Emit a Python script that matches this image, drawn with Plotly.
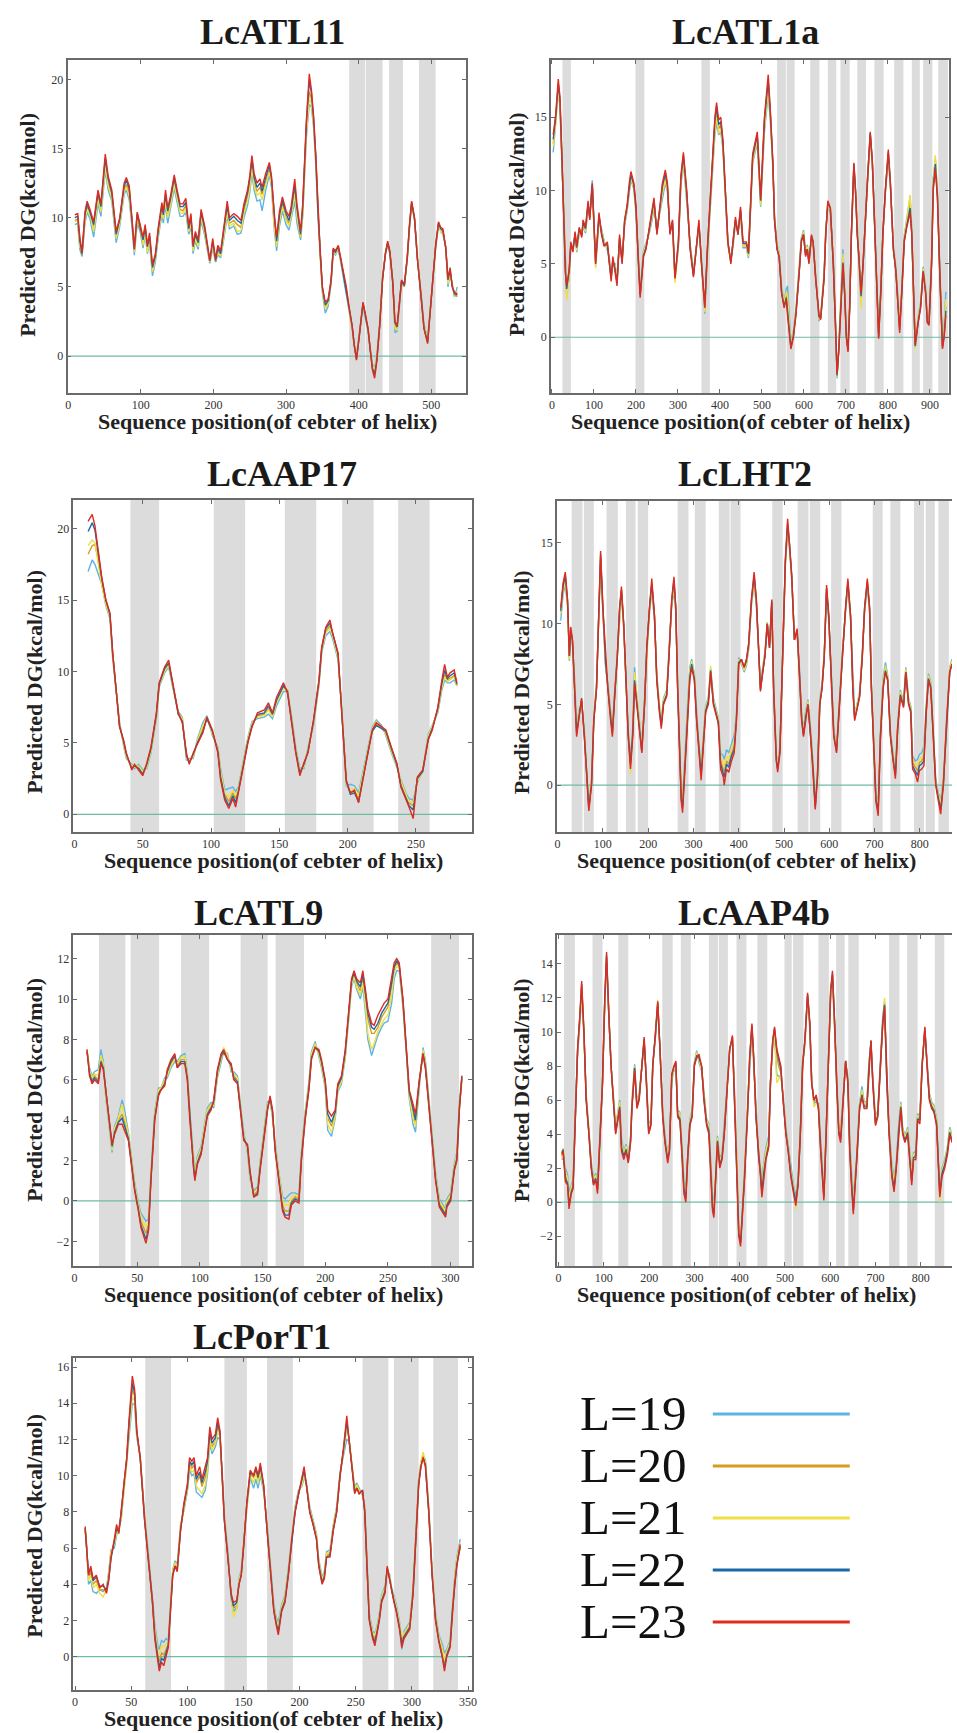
import plotly.graph_objects as go

W, H = 957, 1733
SERIES = ["L=19", "L=20", "L=21", "L=22", "L=23"]
COLORS = ["#5DB3E4", "#D99A1E", "#EEDF45", "#1B69A6", "#DF2A1F"]
TITLES = ["LcATL11", "LcATL1a", "LcAAP17", "LcLHT2", "LcATL9", "LcAAP4b", "LcPorT1"]
X_TITLE = "Sequence position(of cebter of helix)"
Y_TITLE = "Predicted DG(kcal/mol)"

# ---------------- LcATL11 ----------------
X1 = [9,13,16,19,23,26,30,35,41,45, 51,55,60,66,71,77,80,84,88,91,
      95,99,103,106,109,112,116,120,124,129, 131,134,137,141,146,150,154,158,162,166,
      169,172,175,179,183,188,192,195,199,203, 206,210,215,219,222,228,233,238,242,247,
      250,253,256,260,264,267,272,277,280,284, 287,291,295,300,304,307,312,315,320,323,
      328,332,335,338,341,344,347,350,354,358, 362,365,368,372,375,379,383,387,391,394,
      397,401,406,409,413,416,419,422,425,429, 433,437,440,443,447,450,453,456,459,463,
      467,470,473,477,481,486,490,495,498,502, 506,510,513,516,520,523,526,529,532,536]
P1_L23 = [10.2,10.3,8.6,7.5,10.4,11.2,10.6,9.7,12.0,11.0, 14.6,13.0,12.0,9.0,10.0,12.5,12.9,12.3,9.8,7.8,
          10.4,9.5,8.6,9.5,8.0,8.9,6.6,7.4,9.3,11.1, 10.4,12.0,10.7,11.6,13.1,12.0,11.0,11.0,11.4,9.4,
          10.3,8.0,9.0,8.4,10.6,9.4,8.0,6.9,8.5,7.0, 8.0,7.6,9.6,11.2,10.0,10.3,10.1,9.8,11.0,12.0,
          13.0,14.5,13.2,12.5,12.8,12.2,13.2,14.0,13.0,10.0, 8.6,10.5,11.5,10.5,10.1,10.8,12.8,11.0,9.0,11.0,
          17.0,20.4,19.2,17.3,14.5,10.5,7.5,5.0,3.9,4.1, 5.5,7.8,7.6,8.0,7.2,6.0,5.0,3.5,2.2,0.8,
          -0.3,1.5,3.9,3.1,2.0,0.5,-1.0,-1.6,-0.4,2.2, 5.6,7.5,8.3,7.6,5.3,2.5,2.2,3.8,5.5,5.2,
          7.2,9.5,11.2,10.0,7.0,4.3,2.0,0.9,3.0,5.8, 8.0,9.7,9.3,9.2,7.8,5.6,6.4,5.0,4.6,4.5]
P1_L22 = [10.0,10.1,8.3,7.4,10.2,11.0,10.4,9.5,11.8,10.8, 14.3,12.8,11.8,8.8,9.9,12.3,12.7,12.1,9.7,7.7,
          10.3,9.3,8.4,9.3,7.9,8.7,6.4,7.2,9.1,10.9, 10.2,11.7,10.5,11.4,12.9,11.8,10.8,10.8,11.1,9.2,
          10.1,7.9,8.8,8.2,10.4,9.2,7.8,6.9,8.3,6.9, 7.8,7.4,9.4,10.9,9.8,10.1,9.8,9.6,10.8,11.8,
          12.8,14.2,12.9,12.2,12.5,11.9,12.9,13.8,12.8,9.8, 8.3,10.2,11.2,10.3,9.8,10.5,12.4,10.7,8.8,10.8,
          16.8,19.9,19.0,17.1,14.4,10.4,7.5,5.0,3.7,4.0, 5.4,7.7,7.5,7.9,7.1,5.9,4.9,3.4,2.2,0.8,
          -0.2,1.5,3.8,3.0,1.9,0.4,-0.9,-1.3,-0.3,2.2, 5.6,7.4,8.2,7.5,5.3,2.4,2.1,3.7,5.4,5.1,
          7.1,9.4,11.1,9.9,7.0,4.3,2.0,1.0,3.0,5.7, 7.9,9.6,9.2,9.1,7.8,5.5,6.2,5.0,4.5,4.4]
P1_L20 = [9.8,9.9,8.0,7.3,9.9,10.8,10.3,9.2,11.5,10.5, 14.0,12.5,11.6,8.6,9.7,12.1,12.4,11.8,9.5,7.6,
          10.0,9.2,8.2,9.1,7.7,8.5,6.2,7.1,8.9,10.6, 10.0,11.4,10.2,11.1,12.6,11.6,10.6,10.5,10.9,9.1,
          9.8,7.7,8.6,8.0,10.2,9.0,7.7,6.8,8.1,6.8, 7.6,7.3,9.1,10.6,9.6,9.8,9.5,9.3,10.5,11.5,
          12.4,13.9,12.6,11.9,12.2,11.7,12.6,13.5,12.6,9.5, 8.1,9.9,11.0,10.0,9.6,10.3,12.0,10.4,8.6,10.5,
          16.4,19.1,18.6,16.9,14.2,10.3,7.4,4.9,3.5,3.9, 5.3,7.7,7.5,7.8,7.0,5.9,4.9,3.3,2.1,0.7,
          -0.2,1.6,3.8,3.0,1.9,0.4,-0.8,-1.1,-0.2,2.3, 5.7,7.5,8.2,7.5,5.4,2.2,2.0,3.6,5.3,5.0,
          7.1,9.3,11.1,9.9,7.0,4.4,2.1,1.1,3.1,5.7, 7.9,9.6,9.1,9.0,7.9,5.4,6.1,5.1,4.4,4.3]
P1_L21 = [9.7,9.8,7.9,7.6,9.8,10.6,10.2,9.0,11.3,10.4, 13.7,12.3,11.4,8.5,9.6,11.9,12.2,11.6,9.6,7.5,
          9.8,9.6,8.0,9.0,7.5,8.4,6.1,7.0,8.8,10.4, 9.9,11.2,10.0,10.9,12.4,11.4,10.4,10.3,10.7,9.0,
          9.6,7.6,8.5,7.9,10.0,8.9,7.6,6.8,8.0,6.9, 7.5,7.2,8.9,10.4,9.4,9.6,9.0,9.1,10.3,11.2,
          12.1,13.6,12.3,11.6,11.8,11.3,12.4,13.3,12.4,9.3, 7.9,9.7,10.8,9.8,9.4,10.1,11.7,10.1,8.6,10.3,
          16.1,18.6,18.3,16.7,14.0,10.2,7.3,4.8,3.4,3.8, 5.3,7.6,7.4,7.8,7.0,5.8,4.8,3.3,2.0,0.7,
          -0.1,1.6,3.7,2.9,1.9,0.5,-0.7,-1.0,-0.1,2.3, 5.7,7.4,8.1,7.4,5.4,2.0,1.9,3.6,5.3,5.1,
          7.0,9.3,11.0,9.8,7.1,4.4,2.2,1.2,3.1,5.6, 7.8,9.5,9.0,8.9,7.9,5.2,6.0,5.1,4.4,4.7]
P1_L19 = [9.5,9.6,7.7,7.2,9.6,10.4,9.9,8.6,11.0,10.1, 13.4,12.0,11.2,8.2,9.4,11.7,12.0,11.3,9.2,7.3,
          9.6,9.0,7.8,8.8,7.4,8.2,5.8,6.8,8.6,10.2, 9.6,10.9,9.6,10.6,12.1,11.1,10.1,10.1,10.4,8.8,
          9.4,7.4,8.3,7.7,9.8,8.7,7.5,6.7,7.8,6.8, 7.3,7.1,8.7,10.1,9.2,9.4,8.8,8.9,10.0,10.9,
          11.8,13.2,12.0,11.2,11.3,10.5,12.0,13.1,12.2,9.0, 7.6,9.4,10.5,9.5,9.1,9.8,11.2,9.6,8.4,10.1,
          15.8,18.2,18.0,16.5,13.8,10.0,7.2,4.6,3.1,3.6, 5.2,7.5,7.3,7.7,6.9,5.7,4.7,3.2,2.0,0.7,
          0.0,1.7,3.6,2.8,1.8,0.5,-0.6,-0.9,0.0,2.4, 5.8,7.4,8.0,7.4,5.5,1.7,1.8,3.5,5.2,5.1,
          7.0,9.2,11.0,9.8,7.1,4.5,2.3,1.3,3.2,5.6, 7.7,9.5,9.0,8.8,7.9,5.0,5.9,5.2,4.3,5.0]
BANDS1 = [(387, 409), (410, 433), (442, 461), (483, 506)]

# ---------------- LcATL1a ----------------
X2 = [3,9,15,19,24,28,32,35,41,45, 50,55,59,65,71,74,80,86,90,96,
      104,112,118,124,132,136,141,145,150,155, 161,167,173,179,184,188,195,200,206,210,
      218,224,232,238,243,250,258,263,270,275, 281,287,293,301,307,313,321,329,337,347,
      350,356,364,370,376,381,388,392,397,402, 407,413,419,426,431,437,443,449,455,463,
      468,478,489,497,506,515,520,526,530,536, 541,547,553,558,561,569,575,581,589,594,
      599,604,608,612,618,622,628,636,640,648, 652,657,663,670,675,679,683,689,693,697,
      701,705,709,713,719,723,727,731,736,741, 746,752,758,763,768,774,778,783,788,794,
      801,806,813,819,825,828,833,839,845,853, 857,861,865,872,878,884,890,894,898,904,
      908,913,918,924,930,934,938]
P2_L23 = [13.8,15.2,17.6,16.4,12.0,8.0,4.5,3.5,4.6,6.5, 5.8,7.2,6.2,7.5,6.8,8.0,7.5,9.3,8.0,10.5,
          5.0,8.5,7.0,6.2,6.5,5.3,3.8,5.5,4.6,3.5, 7.0,5.0,8.0,9.0,10.5,11.3,10.5,9.0,5.0,2.7,
          5.5,6.0,7.5,8.5,9.5,7.0,9.0,10.5,11.4,10.5, 7.0,8.0,4.0,6.5,11.0,12.6,10.0,6.0,4.1,7.5,
          8.0,5.0,2.0,6.0,9.0,11.5,15.0,16.0,14.8,15.0, 13.5,10.0,6.5,5.0,6.5,8.2,7.0,8.9,6.5,6.5,
          5.8,12.5,14.0,9.4,15.0,17.9,15.5,12.0,8.0,6.0, 5.5,3.0,2.0,2.6,1.5,-0.8,0.0,1.5,4.5,6.5,
          7.0,5.5,6.0,5.0,7.0,6.5,4.0,1.5,1.2,4.0, 7.0,9.3,8.8,5.0,1.0,-2.5,-1.0,3.0,5.0,3.0,
          0.0,-1.0,2.0,7.0,11.9,10.0,7.0,5.5,3.0,5.0, 8.0,11.0,14.0,12.0,8.0,3.0,-0.1,3.0,7.0,10.0,
          12.8,10.5,6.0,4.5,1.5,0.3,3.0,6.5,7.5,8.5, 7.0,3.0,-0.5,1.0,2.0,4.5,3.0,1.0,0.8,5.0,
          10.0,11.5,9.5,4.0,-0.8,0.0,1.5]
P2_L22 = [13.5,15.0,17.3,16.2,12.0,8.0,4.4,3.3,4.5,6.4, 5.9,7.0,6.1,7.4,6.9,7.8,7.4,9.1,8.1,10.4,
          5.1,8.3,7.1,6.3,6.3,5.2,4.0,5.3,4.7,3.7, 6.8,5.1,7.9,8.9,10.4,11.1,10.4,8.8,5.1,2.9,
          5.6,6.1,7.4,8.3,9.3,7.1,8.9,10.3,11.2,10.3, 7.1,7.9,4.1,6.4,10.8,12.4,9.8,6.1,4.2,7.4,
          7.8,5.1,2.1,5.9,8.9,11.4,14.8,15.7,14.5,14.7, 13.3,9.9,6.5,5.1,6.4,8.0,7.0,8.7,6.4,6.4,
          5.7,12.3,13.8,9.3,14.8,17.5,15.3,11.9,8.0,6.0, 5.5,3.0,2.1,2.7,1.8,-0.7,0.1,1.6,4.5,6.6,
          7.0,5.6,6.0,5.1,6.9,6.5,4.0,1.4,1.3,4.0, 7.0,9.2,8.8,5.0,1.0,-2.6,-0.9,3.1,5.1,3.0,
          0.1,-0.9,2.0,7.0,11.8,10.0,7.0,5.4,2.8,5.0, 8.0,11.0,13.9,12.0,8.0,3.0,0.0,3.0,7.0,10.0,
          12.6,10.5,6.0,4.5,1.5,0.5,3.0,6.6,7.6,8.8, 7.0,3.0,-0.6,1.0,2.1,4.5,3.0,1.0,0.9,5.0,
          10.2,11.8,9.6,4.0,-0.7,0.1,1.8]
P2_L20 = [13.2,14.9,17.2,16.0,11.8,8.0,4.3,3.0,4.4,6.3, 6.0,7.1,6.0,7.3,7.0,7.7,7.3,9.0,8.2,10.3,
          5.0,8.2,7.2,6.4,6.2,5.4,4.1,5.2,4.8,3.8, 6.7,5.2,7.8,8.8,10.2,11.0,10.3,8.7,5.2,2.9,
          5.7,6.2,7.3,8.2,9.1,7.2,8.8,10.1,11.0,10.2, 7.2,7.8,4.0,6.3,10.6,12.2,9.7,6.2,4.3,7.3,
          7.7,5.2,1.9,5.8,8.8,11.3,14.5,15.4,14.2,14.5, 13.2,9.8,6.4,5.2,6.3,8.0,7.1,8.6,6.3,6.3,
          5.6,12.2,13.6,9.2,14.6,17.2,15.2,11.8,8.1,6.1, 5.6,3.1,2.2,2.9,2.2,-0.6,0.2,1.7,4.6,6.6,
          7.1,5.7,6.1,5.2,6.8,6.4,4.1,1.3,1.4,4.1, 7.1,9.1,8.7,5.1,1.1,-2.6,-0.8,3.2,5.3,3.1,
          0.2,-0.8,2.1,6.9,11.7,9.9,7.1,5.3,2.5,5.0, 8.1,11.0,13.8,11.9,8.0,3.1,0.1,3.1,7.0,10.0,
          12.5,10.4,6.1,4.6,1.6,0.7,3.1,6.7,7.8,9.2, 7.1,3.1,-0.7,1.1,2.2,4.6,3.1,1.1,1.0,5.1,
          10.4,12.1,9.7,4.1,-0.6,0.3,2.1]
P2_L21 = [13.0,14.6,16.9,15.8,11.7,7.9,4.0,2.5,4.2,6.2, 6.1,7.0,5.9,7.2,7.1,7.6,7.2,8.8,8.3,10.1,
          4.7,8.0,7.3,6.5,6.0,5.5,4.2,5.0,4.9,4.0, 6.5,5.3,7.7,8.7,10.0,10.8,10.2,8.6,5.3,3.0,
          5.8,6.3,7.2,8.0,8.9,7.3,8.7,9.8,10.7,10.0, 7.3,7.6,3.7,6.2,10.4,12.0,9.5,6.3,4.4,7.2,
          7.6,5.3,1.7,5.7,8.6,11.1,14.1,15.0,13.9,14.2, 13.0,9.7,6.3,5.3,6.2,7.9,7.2,8.5,6.2,6.2,
          5.5,12.0,13.4,9.0,14.3,16.9,15.0,11.7,8.2,6.2, 5.7,3.2,2.4,3.1,2.8,-0.5,0.3,1.8,4.7,6.7,
          7.2,5.8,6.2,5.3,6.7,6.3,4.2,1.2,1.5,4.2, 7.2,9.0,8.6,5.2,1.2,-2.7,-0.7,3.4,5.7,3.2,
          0.3,-0.7,2.2,6.8,11.5,9.8,7.2,5.2,2.0,5.0, 8.2,11.1,13.7,11.8,8.1,3.2,0.2,3.2,7.0,9.9,
          12.3,10.3,6.2,4.7,1.7,0.9,3.2,6.8,8.0,9.7, 7.2,3.2,-0.8,1.2,2.3,4.7,3.2,1.2,1.1,5.2,
          10.6,12.4,9.8,4.2,-0.5,0.6,2.6]
P2_L19 = [12.6,14.5,16.8,15.7,11.6,7.8,4.1,2.9,4.1,6.1, 6.2,6.9,5.8,7.1,7.2,7.5,7.1,8.7,8.4,10.7,
          4.9,7.9,7.4,6.6,5.9,5.6,4.3,4.9,5.0,4.1, 6.4,5.4,7.6,8.6,9.9,10.7,10.1,8.5,5.4,3.1,
          5.9,6.4,7.1,7.9,8.8,7.4,8.6,9.6,10.5,9.9, 7.4,7.5,3.9,6.1,10.3,11.9,9.4,6.4,4.5,7.1,
          7.5,5.4,1.6,5.6,8.5,11.0,13.8,14.6,13.8,14.0, 12.9,9.6,6.2,5.4,6.1,7.8,7.3,8.4,6.1,6.1,
          5.4,11.9,13.2,8.9,14.0,16.6,14.8,11.6,8.3,6.3, 5.8,3.3,2.5,3.3,3.5,-0.4,0.4,1.9,4.8,6.8,
          7.3,5.9,6.3,5.4,6.6,6.2,4.3,1.1,1.6,4.3, 7.3,8.9,8.5,5.3,1.3,-2.8,-0.6,3.6,6.0,3.3,
          0.4,-0.6,2.3,6.7,11.4,9.7,7.3,5.1,2.3,5.0, 8.3,11.1,13.6,11.7,8.2,3.3,0.3,3.3,7.0,9.8,
          12.2,10.2,6.3,4.8,1.8,1.0,3.3,6.9,8.1,9.6, 7.3,3.3,-0.7,1.3,2.4,4.8,3.3,1.3,1.2,5.3,
          10.8,12.2,9.9,4.3,-0.4,0.8,3.1]
BANDS2 = [(25, 45), (199, 220), (356, 376), (536, 557), (559, 578), (615, 637), (657, 677),
          (687, 709), (727, 748), (768, 790), (815, 837), (857, 876), (884, 906), (920, 943)]

# ---------------- LcAAP17 ----------------
X3 = [10,13,15,17,20,23,26,28,31,33, 36,38,42,44,47,50,53,56,60,62,
      66,69,72,76,79,82,84,87,90,94, 97,101,105,107,110,113,116,118,120,123,
      127,130,134,139,142,145,148,153,156,159, 162,165,168,171,175,179,181,184,187,189,
      193,196,199,202,205,208,211,215,218,221, 225,228,232,236,239,243,245,248,251,255,
      259,262,266,269,271,273,275,278,280]
P3_L23 = [20.5,21.0,20.2,18.7,16.6,15.0,14.1,11.3,8.2,6.1, 5.2,4.3,3.1,3.5,3.1,2.7,3.6,4.7,7.1,9.2,
          10.3,10.8,9.2,7.1,6.4,4.3,3.5,4.3,4.9,5.7, 6.8,5.9,4.3,2.4,1.0,0.4,1.1,0.5,1.5,2.9,
          5.0,6.1,7.1,7.3,7.8,7.1,8.2,9.2,8.5,6.4, 4.3,2.7,3.6,4.3,6.6,9.4,11.7,13.1,13.6,12.7,
          11.3,6.6,2.4,1.5,1.7,0.8,2.4,4.3,5.9,6.4, 6.1,5.9,4.7,3.6,1.9,1.0,0.5,-0.3,2.6,3.1,
          5.2,5.9,7.5,9.4,10.5,9.6,9.9,10.1,9.2]
P3_L22 = [19.8,20.4,19.9,18.5,16.5,15.0,14.0,11.3,8.3,6.2, 5.1,4.2,3.2,3.4,3.2,2.8,3.5,4.6,7.0,9.1,
          10.2,10.6,9.1,7.0,6.5,4.1,3.6,4.2,5.0,5.8, 6.7,5.8,4.4,2.6,1.2,0.6,1.3,0.8,1.6,3.0,
          5.1,6.2,7.0,7.1,7.6,7.0,8.0,9.0,8.6,6.5, 4.4,2.9,3.5,4.4,6.5,9.3,11.6,13.0,13.4,12.7,
          11.2,6.7,2.3,1.4,1.5,0.9,2.5,4.4,5.8,6.2, 6.0,5.8,4.6,3.5,2.0,1.1,0.6,0.3,2.5,3.0,
          5.3,6.0,7.4,9.2,10.1,9.5,9.7,9.9,9.1]
P3_L20 = [18.2,18.8,18.9,18.0,16.2,14.8,13.9,11.2,8.3,6.3, 5.0,4.1,3.3,3.4,3.3,2.9,3.4,4.5,6.9,9.0,
          10.1,10.5,9.0,7.0,6.6,4.0,3.7,4.1,5.1,6.0, 6.7,5.7,4.5,2.8,1.4,0.9,1.5,1.1,1.7,3.2,
          5.2,6.3,6.9,7.0,7.4,6.9,7.9,8.9,8.7,6.6, 4.5,3.0,3.4,4.5,6.4,9.2,11.5,12.8,13.2,12.6,
          11.0,6.8,2.2,1.5,1.6,1.1,2.6,4.5,5.9,6.3, 6.0,5.7,4.5,3.5,2.2,1.2,0.8,0.6,2.4,3.0,
          5.4,6.1,7.3,9.0,9.8,9.4,9.5,9.7,9.0]
P3_L21 = [18.8,19.2,19.0,17.9,16.0,14.7,13.8,11.0,8.4,6.4, 4.9,4.0,3.4,3.3,3.4,3.0,3.3,4.4,6.8,9.0,
          10.0,10.4,9.0,7.1,6.7,3.9,3.8,4.0,5.2,6.2, 6.8,5.6,4.6,3.0,1.5,1.2,1.7,1.3,1.8,3.3,
          5.3,6.4,6.8,6.9,7.3,6.8,7.8,8.8,8.7,6.7, 4.6,3.1,3.3,4.6,6.3,9.1,11.4,12.7,13.0,12.5,
          10.9,6.9,2.1,1.6,1.8,1.3,2.7,4.6,6.0,6.5, 6.1,5.6,4.4,3.4,2.3,1.3,0.9,0.8,2.3,3.0,
          5.5,6.2,7.2,8.9,9.6,9.3,9.4,9.6,9.0]
P3_L19 = [17.0,17.8,17.5,16.9,16.1,14.6,13.7,10.9,8.5,6.5, 4.8,3.9,3.5,3.2,3.5,3.1,3.2,4.3,6.7,8.9,
          9.9,10.3,8.9,7.2,6.8,3.8,3.9,3.9,5.3,6.4, 6.9,5.5,4.7,3.2,1.7,1.8,1.9,1.6,1.9,3.4,
          5.4,6.5,6.7,6.8,7.0,6.7,7.6,8.6,8.6,6.8, 4.7,3.2,3.2,4.7,6.2,9.0,11.3,12.5,12.8,12.3,
          10.8,7.0,2.0,2.1,2.0,1.5,2.8,4.7,6.1,6.6, 6.2,5.5,4.3,3.3,2.4,1.4,1.1,1.0,2.2,3.1,
          5.6,6.3,7.1,8.7,9.4,9.2,9.2,9.4,9.0]
BANDS3 = [(41, 62), (102, 125), (154, 177), (196, 219), (237, 260)]

# ---------------- LcLHT2 ----------------
X4 = [7,12,17,22,26,29,33,38,42,48, 53,59,64,69,75,80,86,90,95,100,
      106,111,116,121,126,132,137,141,146,151, 156,161,166,170,175,181,186,192,197,203,
      208,214,219,225,229,234,241,246,252,257, 261,265,270,273,276,281,287,292,296,302,
      307,312,317,322,327,333,338,344,349,355, 360,366,368,373,378,384,390,395,400,406,
      412,417,422,428,434,439,444,448,453,458, 463,468,473,477,483,486,491,497,503,508,
      512,517,523,529,534,539,543,548,553,559, 564,569,574,579,584,589,594,599,605,610,
      616,621,629,636,641,647,652,656,662,667, 673,678,684,689,693,698,703,708,713,719,
      724,729,735,741,746,751,757,764,769,775, 780,784,790,795,799,804,809,814,819,824,
      830,835,841,846,852,859,866,871]
P4_L23 = [11.0,12.5,13.2,11.5,8.0,9.8,9.0,6.0,3.0,4.3, 5.4,3.0,0.5,-1.6,0.0,4.0,6.0,10.0,14.5,11.0,
          7.8,6.0,4.3,3.0,5.5,8.0,11.0,12.3,10.0,6.0, 3.0,1.0,3.0,6.3,5.0,3.5,2.0,5.0,8.5,11.0,
          12.8,10.5,6.5,4.5,3.5,5.0,5.5,8.0,11.5,12.9, 11.0,6.0,1.0,-1.0,-1.7,1.0,4.5,6.5,7.3,6.5,
          4.0,2.0,0.3,2.5,4.5,5.0,7.0,5.0,4.5,3.8, 1.0,0.5,0.0,1.0,0.8,1.5,2.0,4.0,7.5,7.8,
          7.3,7.8,8.8,11.5,13.2,11.5,8.5,5.8,7.0,8.0, 10.0,8.5,11.5,6.0,1.5,0.8,2.0,8.0,14.0,16.5,
          15.0,13.0,9.0,9.7,7.0,4.0,3.0,4.2,5.0,3.0, 1.0,-1.5,0.5,5.0,6.0,8.0,12.4,10.5,6.0,3.0,
          2.0,4.5,8.0,11.0,12.8,10.5,6.0,4.0,4.8,5.5, 8.0,11.0,12.8,11.0,6.0,2.0,-1.0,-1.9,3.0,6.0,
          7.0,6.5,3.0,1.5,0.4,3.5,5.5,4.8,7.0,5.0, 4.5,1.0,0.7,0.2,0.9,1.0,1.2,4.5,6.5,6.0,
          3.0,0.0,-1.0,-1.8,0.0,4.0,7.0,7.5]
P4_L22 = [10.8,12.3,13.0,11.4,8.0,9.6,8.9,6.1,3.2,4.4, 5.3,3.1,0.6,-1.4,0.1,4.0,6.0,10.0,14.3,11.0,
          7.6,6.0,4.4,3.2,5.5,8.0,11.0,12.1,10.0,6.1, 3.1,1.3,3.2,6.5,5.1,3.6,2.1,5.0,8.5,11.0,
          12.5,10.5,6.6,4.6,3.7,5.1,5.6,8.0,11.4,12.7, 11.0,6.1,1.1,-0.8,-1.4,1.1,4.6,6.7,7.5,6.6,
          4.1,2.1,0.6,2.6,4.6,5.2,7.1,5.1,4.6,3.9, 1.3,0.8,0.5,1.3,1.1,1.8,2.2,4.1,7.6,7.8,
          7.3,7.7,8.7,11.4,13.0,11.4,8.5,5.9,7.0,8.0, 10.0,8.5,11.4,6.0,1.6,1.0,2.1,8.0,13.9,16.2,
          15.0,13.0,9.0,9.6,7.0,4.1,3.1,4.3,5.0,3.1, 1.1,-1.3,0.6,5.0,6.0,8.0,12.2,10.4,6.0,3.1,
          2.1,4.5,8.0,11.0,12.6,10.5,6.0,4.1,4.8,5.5, 8.0,11.0,12.6,11.0,6.0,2.1,-0.9,-1.6,3.0,6.1,
          7.1,6.5,3.1,1.6,0.6,3.5,5.6,4.9,7.0,5.1, 4.6,1.2,0.9,0.6,1.2,1.3,1.5,4.6,6.6,6.1,
          3.0,0.1,-0.8,-1.5,0.1,4.0,7.0,7.5]
P4_L20 = [10.7,12.2,12.8,11.3,7.9,9.5,8.8,6.2,3.4,4.5, 5.2,3.2,0.7,-1.3,0.2,4.1,6.1,9.9,14.1,10.9,
          7.5,6.1,4.5,3.3,5.6,8.1,10.9,12.0,9.9,6.2, 3.2,1.5,3.3,6.7,5.2,3.7,2.2,5.1,8.4,10.9,
          12.4,10.4,6.7,4.7,3.8,5.2,5.7,8.1,11.3,12.5, 10.9,6.2,1.2,-0.7,-1.2,1.2,4.7,6.9,7.6,6.7,
          4.2,2.2,0.8,2.7,4.7,5.3,7.2,5.2,4.7,4.0, 1.5,1.0,0.8,1.5,1.3,2.0,2.4,4.2,7.7,7.7,
          7.2,7.6,8.6,11.3,12.8,11.3,8.4,6.0,7.1,8.1, 10.0,8.6,11.3,6.1,1.7,1.1,2.2,8.1,13.8,16.0,
          14.9,12.9,9.0,9.5,7.1,4.2,3.2,4.4,5.1,3.2, 1.2,-1.2,0.7,5.1,6.1,8.1,12.1,10.3,6.1,3.2,
          2.2,4.6,8.1,10.9,12.5,10.4,6.1,4.2,4.9,5.6, 8.1,10.9,12.5,10.9,6.1,2.2,-0.8,-1.4,3.1,6.3,
          7.2,6.6,3.2,1.7,0.7,3.6,5.7,5.0,7.1,5.2, 4.7,1.4,1.1,0.9,1.4,1.5,1.8,4.7,6.7,6.2,
          3.1,0.2,-0.7,-1.3,0.2,4.1,7.1,7.6]
P4_L21 = [10.6,12.0,12.6,11.2,7.8,9.4,8.7,6.3,3.5,4.6, 5.1,3.3,0.8,-1.2,0.3,4.2,6.2,9.8,13.9,10.8,
          7.4,6.2,4.6,3.4,5.7,8.2,10.8,11.9,9.8,6.3, 3.3,0.7,3.5,7.0,5.3,3.8,2.3,5.2,8.3,10.8,
          12.2,10.3,6.8,4.8,3.9,5.3,5.8,8.2,11.2,12.2, 10.8,6.3,1.3,-0.6,-1.0,1.3,4.8,7.1,7.7,6.8,
          4.3,2.3,1.0,2.8,4.8,5.4,7.4,5.3,4.8,4.1, 1.8,1.4,1.2,1.8,1.6,2.3,2.7,4.3,7.8,7.6,
          7.1,7.5,8.5,11.2,12.6,11.2,8.3,6.1,7.2,8.2, 10.1,8.7,11.2,6.2,1.8,1.2,2.3,8.2,13.7,15.8,
          14.8,12.8,9.1,9.4,7.2,4.3,3.3,4.5,5.2,3.3, 1.3,-1.1,0.8,5.2,6.2,8.2,12.0,10.2,6.2,3.3,
          2.3,4.7,8.2,10.8,12.4,10.3,6.2,4.3,5.0,5.7, 8.2,10.8,12.4,10.8,6.2,2.3,-0.7,-1.2,3.2,6.5,
          7.4,6.7,3.3,1.8,0.8,3.7,5.8,5.1,7.2,5.3, 4.8,1.6,1.3,1.3,1.6,1.7,2.1,4.8,6.8,6.3,
          3.2,0.3,-0.6,-1.1,0.3,4.2,7.2,7.7]
P4_L19 = [10.2,11.8,12.4,11.1,7.7,9.3,8.6,6.4,3.6,4.7, 5.0,3.4,0.9,-1.5,0.4,4.3,6.3,9.7,13.8,10.7,
          7.3,6.3,4.7,3.5,5.8,8.3,10.7,11.8,9.7,6.4, 3.4,1.7,3.6,7.3,5.4,3.9,2.4,5.3,8.2,10.7,
          12.0,10.2,6.9,4.9,4.0,5.4,5.9,8.3,11.1,12.0, 10.7,6.4,1.4,-0.5,-0.9,1.4,4.9,7.3,7.8,6.9,
          4.4,2.4,1.2,2.9,4.9,5.5,7.2,5.4,4.9,4.2, 2.0,1.8,1.6,2.2,2.0,2.6,3.1,4.4,7.9,7.5,
          7.0,7.4,8.4,11.1,12.5,11.1,8.2,6.2,7.3,8.3, 10.1,8.8,11.1,6.3,1.9,1.3,2.4,8.3,13.6,15.6,
          14.7,12.7,9.1,9.3,7.3,4.4,3.4,4.6,5.3,3.4, 1.4,-1.4,0.9,5.3,6.3,8.3,11.9,10.1,6.3,3.4,
          2.4,4.8,8.3,10.7,12.3,10.2,6.3,4.4,5.1,5.8, 8.3,10.7,12.3,10.7,6.3,2.4,-0.6,-1.1,3.3,6.7,
          7.6,6.8,3.4,1.9,0.9,3.8,5.9,5.2,7.3,5.4, 4.9,1.8,1.5,1.6,1.9,2.0,2.4,4.9,6.9,6.4,
          3.3,0.4,-0.5,-1.0,0.4,4.3,7.3,7.8]
BANDS4 = [(31, 55), (58, 80), (108, 133), (151, 172), (177, 200), (265, 289), (303, 327),
          (356, 380), (382, 404), (474, 497), (530, 554), (557, 580), (604, 627), (696, 718),
          (735, 757), (787, 809), (813, 833), (841, 864)]

# ---------------- LcATL9 ----------------
X5 = [10,12,14,16,19,21,23,25,27,30, 32,35,38,40,43,45,48,51,53,57,
      59,61,64,67,69,72,74,77,80,82, 85,88,90,92,95,96,98,101,104,106,
      109,111,114,117,119,122,125,127,130,133, 135,138,140,143,146,148,151,154,156,158,
      160,163,166,168,171,173,176,179,181,184, 187,189,192,195,197,200,202,205,208,210,
      213,216,218,221,223,225,228,230,232,234, 237,239,242,245,247,250,253,255,257,259,
      262,265,267,270,272,275,278,280,283,286, 288,291,294,296,297,300,303,305,307,309]
P5_L23 = [7.5,6.2,5.8,6.0,5.8,6.8,6.5,5.5,4.5,2.8, 3.3,3.8,3.8,3.5,3.0,2.0,0.5,-0.5,-1.3,-2.1,
          -1.5,1.0,4.0,5.2,5.5,5.7,6.5,7.0,7.3,6.6, 6.8,6.8,6.0,4.0,1.5,1.0,1.8,2.3,3.5,4.2,
          4.5,5.0,6.5,7.3,7.5,7.0,6.8,6.0,5.8,4.0, 3.0,2.8,1.5,0.2,0.3,1.5,3.0,4.5,5.2,4.5,
          2.5,1.0,-0.5,-0.8,-0.9,-0.2,0.0,-0.1,2.0,4.0, 5.5,7.0,7.6,7.5,7.0,6.0,4.5,4.2,4.5,5.8,
          6.2,7.5,9.0,11.0,11.4,11.0,10.8,11.4,10.5,9.5, 8.8,8.7,9.2,9.6,9.8,10.0,11.0,11.8,12.0,11.8,
          10.0,7.5,5.5,4.8,4.3,6.0,7.3,6.5,4.5,2.5, 1.0,-0.3,-0.6,-0.8,-0.3,0.0,1.5,2.0,4.5,6.2]
P5_L22 = [7.4,6.3,5.9,6.1,5.9,6.9,6.6,5.4,4.4,2.7, 3.4,3.9,4.1,3.7,3.1,2.1,0.6,-0.4,-1.2,-1.9,
          -1.4,1.1,4.1,5.3,5.5,5.8,6.4,6.9,7.2,6.6, 6.9,6.9,6.1,4.1,1.6,1.1,1.9,2.4,3.6,4.3,
          4.6,4.9,6.4,7.2,7.4,7.0,6.7,6.1,5.9,4.1, 3.1,2.7,1.4,0.2,0.4,1.6,3.1,4.6,5.1,4.4,
          2.6,1.1,-0.4,-0.7,-0.7,-0.1,0.1,0.0,2.1,4.1, 5.6,7.1,7.6,7.4,6.9,5.9,4.3,3.9,4.4,5.7,
          6.1,7.4,8.9,10.9,11.3,10.9,10.6,11.2,10.3,9.3, 8.6,8.5,8.8,9.3,9.5,9.8,10.8,11.6,11.9,11.7,
          9.9,7.4,5.4,4.6,4.0,5.9,7.3,6.6,4.6,2.6, 1.1,-0.2,-0.5,-0.7,-0.2,0.1,1.6,2.1,4.6,6.1]
P5_L20 = [7.5,6.4,6.0,6.2,6.0,7.0,6.7,5.3,4.3,2.6, 3.5,4.0,4.3,3.9,3.2,2.2,0.7,-0.3,-1.0,-1.6,
          -1.2,1.2,4.2,5.4,5.5,5.9,6.3,6.8,7.1,6.7, 7.0,7.0,6.2,4.2,1.7,1.2,2.0,2.5,3.7,4.4,
          4.7,4.8,6.3,7.1,7.3,7.1,6.6,6.2,6.0,4.2, 3.2,2.6,1.3,0.3,0.5,1.7,3.2,4.7,5.0,4.3,
          2.7,1.2,-0.2,-0.5,-0.5,0.0,0.2,0.1,2.2,4.2, 5.7,7.2,7.7,7.3,6.8,5.8,4.1,3.7,4.3,5.6,
          6.0,7.3,8.8,10.8,11.2,10.8,10.4,11.0,10.1,9.0, 8.3,8.3,8.6,9.1,9.3,9.6,10.6,11.5,11.8,11.6,
          9.8,7.3,5.3,4.4,3.8,5.8,7.4,6.7,4.7,2.7, 1.2,-0.1,-0.4,-0.6,-0.1,0.2,1.7,2.2,4.7,6.0]
P5_L21 = [7.5,6.5,6.1,6.3,6.2,7.2,6.8,5.2,4.2,2.5, 3.6,4.1,4.8,4.2,3.3,2.3,0.8,-0.2,-0.8,-1.3,
          -1.0,1.3,4.3,5.5,5.6,6.0,6.2,6.7,7.0,6.8, 7.1,7.2,6.3,4.3,1.8,1.3,2.1,2.6,3.8,4.5,
          4.8,4.7,6.2,7.0,7.6,7.2,6.5,6.3,6.1,4.3, 3.3,2.5,1.2,0.4,0.6,1.8,3.3,4.8,5.0,4.2,
          2.8,1.3,0.0,-0.2,-0.2,0.2,0.3,0.2,2.3,4.3, 5.8,7.3,7.8,7.2,6.7,5.7,3.8,3.4,4.2,5.5,
          5.9,7.2,8.7,10.7,11.1,10.6,10.2,10.8,9.7,8.3, 7.5,7.8,8.4,8.8,9.0,9.2,10.2,11.3,11.6,11.5,
          9.7,7.2,5.2,4.1,3.7,5.7,7.5,6.8,4.8,2.8, 1.3,0.0,-0.3,-0.5,0.0,0.3,1.8,2.3,4.8,5.9]
P5_L19 = [7.4,6.6,6.2,6.4,6.5,7.5,6.9,5.1,4.1,2.4, 3.7,4.2,5.0,4.5,3.4,2.4,0.9,-0.1,-0.6,-1.0,
          -0.9,1.4,4.4,5.6,5.6,6.1,6.1,6.6,6.9,6.9, 7.2,7.3,6.4,4.4,1.9,1.4,2.2,2.7,3.9,4.6,
          4.9,4.6,6.1,6.9,7.4,7.3,6.4,6.4,6.2,4.4, 3.4,2.4,1.1,0.5,0.7,1.9,3.4,4.9,4.9,4.1,
          2.9,1.4,0.2,0.1,0.3,0.4,0.4,0.3,2.4,4.4, 5.9,7.4,7.9,7.1,6.6,5.6,3.5,3.2,4.1,5.4,
          5.8,7.1,8.6,10.6,11.0,10.5,10.0,10.6,9.4,8.0, 7.2,7.6,8.2,8.6,8.8,8.9,9.8,11.0,11.4,11.4,
          9.6,7.1,5.1,3.8,3.4,5.6,7.6,6.9,4.9,2.9, 1.4,0.1,-0.2,-0.4,0.1,0.4,1.9,2.4,4.9,6.2]
BANDS5 = [(19.5, 40.6), (44.8, 67.5), (85, 107.4), (132.5, 154.1), (160.4, 183.1), (284.5, 306.7)]

# ---------------- LcAAP4b ----------------
X6 = [7,10,15,20,23,28,32,38,42,47, 51,56,61,67,72,77,82,86,91,97,
      102,106,111,116,121,126,129,135,139,144, 149,154,159,162,168,173,178,184,189,194,
      199,204,208,214,219,224,230,235,241,245, 250,255,259,263,268,272,277,281,285,290,
      295,300,305,310,316,321,327,332,336,340, 343,347,351,356,361,366,371,378,384,389,
      394,398,402,406,411,417,422,427,431,436, 442,446,449,453,458,464,468,473,477,482,
      486,491,496,502,507,513,519,524,529,534, 539,544,550,555,559,564,569,574,579,584,
      586,591,596,601,605,610,614,619,623,629, 634,639,643,647,651,654,659,665,670,675,
      681,686,690,694,700,705,711,716,720,725, 730,736,741,746,751,756,760,765,771,775,
      780,784,789,793,798,803,809,814,819,824, 829,835,839,842,847,853,859,864,869]
P6_L23 = [2.8,3.0,1.2,1.0,-0.4,0.5,0.8,6.0,9.0,11.0, 13.0,10.0,6.0,4.0,2.0,1.0,1.3,0.5,3.5,7.0,
          12.0,14.7,11.0,8.0,6.0,4.0,4.5,5.5,3.0,2.5, 3.0,2.3,3.5,5.5,7.8,5.5,6.0,8.0,9.7,7.0,
          4.0,4.5,8.0,10.0,11.8,9.0,5.0,3.5,2.3,3.0, 7.5,8.0,8.3,5.0,4.8,3.0,0.5,0.0,2.5,4.5,
          5.0,8.0,8.5,8.7,8.0,6.0,4.5,4.0,2.0,-0.5, -0.9,1.0,3.5,2.0,2.5,4.0,6.0,9.0,9.8,6.0,
          2.0,-2.0,-2.6,-1.0,1.5,5.0,8.5,10.5,8.5,5.0, 2.5,1.5,0.3,1.5,2.5,3.2,7.0,9.5,10.3,9.0,
          8.5,8.0,6.0,4.0,3.0,1.5,0.5,-0.2,1.0,4.0, 8.0,9.5,12.3,10.5,7.0,6.0,6.3,5.5,3.0,1.0,
          0.1,4.0,9.0,12.5,13.6,10.5,7.0,4.0,3.5,6.0, 8.3,7.0,3.0,1.0,-0.7,0.5,2.5,5.5,6.2,5.5,
          5.5,8.0,9.5,7.0,4.5,5.0,8.0,10.5,11.5,7.0, 4.0,1.5,0.6,2.0,4.0,5.5,4.0,3.5,4.0,2.5,
          1.0,2.5,2.5,4.8,4.6,8.0,10.3,8.0,6.0,5.5, 5.3,4.5,2.0,0.3,1.5,2.0,2.8,4.0,3.5]
P6_L22 = [2.9,3.1,1.4,1.1,-0.2,0.6,0.9,6.0,9.0,10.9, 12.8,10.0,6.0,4.0,2.1,1.1,1.4,0.7,3.5,7.0,
          11.9,14.5,11.0,8.0,6.0,4.1,4.6,5.6,3.2,2.7, 3.1,2.4,3.6,5.6,7.9,5.6,6.1,8.0,9.6,7.0,
          4.1,4.6,8.0,9.9,11.7,9.0,5.1,3.6,2.5,3.1, 7.5,8.0,8.2,5.1,4.9,3.2,0.7,0.2,2.6,4.6,
          5.1,8.1,8.6,8.5,8.0,6.1,4.6,4.2,2.1,-0.3, -0.7,1.2,3.6,2.2,2.6,4.1,6.0,9.0,9.7,6.0,
          2.1,-1.8,-2.4,-0.8,1.6,5.0,8.4,10.4,8.5,5.1, 2.6,1.7,0.6,1.7,2.6,3.3,7.0,9.5,10.2,8.9,
          8.3,7.8,6.0,4.1,3.1,1.6,0.7,0.0,1.1,4.0, 8.0,9.5,12.2,10.5,7.0,6.0,6.2,5.5,3.1,1.1,
          0.3,4.0,9.0,12.4,13.4,10.5,7.0,4.1,3.7,6.1, 8.3,7.1,3.2,1.2,-0.5,0.7,2.6,5.6,6.3,5.6,
          5.6,8.1,9.5,7.1,4.6,5.1,8.0,10.5,11.6,7.0, 4.1,1.7,0.8,2.1,4.1,5.6,4.1,3.6,4.1,2.7,
          1.2,2.6,2.7,4.9,4.8,8.0,10.2,8.0,6.1,5.6, 5.4,4.6,2.1,0.5,1.7,2.2,3.0,4.1,3.6]
P6_L20 = [2.7,2.9,1.6,1.2,0.0,0.7,1.0,6.1,8.9,10.8, 12.6,10.0,6.1,4.1,2.2,1.2,1.5,0.8,3.6,7.0,
          11.8,14.4,11.0,8.0,6.1,4.2,4.7,5.7,3.3,2.8, 3.2,2.5,3.7,5.7,7.9,5.7,6.2,8.1,9.5,7.1,
          4.2,4.7,8.0,9.8,11.6,9.0,5.2,3.7,2.6,3.2, 7.4,7.9,8.1,5.2,5.0,3.3,0.9,0.4,2.7,4.7,
          5.2,8.1,8.7,8.4,7.9,6.2,4.7,4.3,2.2,-0.1, -0.5,1.3,3.7,2.3,2.7,4.2,6.1,9.0,9.6,6.1,
          2.2,-1.7,-2.3,-0.7,1.7,5.1,8.3,10.3,8.4,5.2, 2.7,1.8,0.8,1.9,2.8,3.5,7.0,9.4,10.1,8.6,
          8.0,7.6,6.1,4.2,3.2,1.7,0.8,0.1,1.2,4.1, 8.1,9.4,12.1,10.4,7.1,5.9,6.0,5.6,3.2,1.2,
          0.4,4.1,8.9,12.3,13.3,10.4,7.1,4.2,3.9,6.2, 8.3,7.2,3.4,1.4,-0.3,0.9,2.7,5.7,6.4,5.7,
          5.7,8.2,9.4,7.2,4.7,5.2,8.1,10.6,11.7,7.1, 4.2,1.9,1.0,2.2,4.2,5.7,4.2,3.7,4.2,2.8,
          1.4,2.7,2.8,5.0,4.9,8.1,10.1,8.1,6.2,5.7, 5.5,4.7,2.2,0.6,1.8,2.3,3.1,4.2,3.7]
P6_L21 = [2.6,3.2,1.8,1.4,0.2,0.9,1.2,6.2,8.8,10.6, 12.0,9.9,6.2,4.2,2.3,1.3,1.6,0.9,3.7,7.1,
          11.7,14.2,10.9,7.9,6.2,4.3,4.9,5.9,3.5,2.9, 3.3,2.6,3.8,5.9,8.0,5.8,6.3,8.1,9.4,7.2,
          4.3,4.8,8.1,9.8,11.9,8.9,5.3,3.8,2.8,3.3, 7.3,7.8,8.0,5.3,5.2,3.4,1.1,0.6,2.8,4.8,
          5.3,8.2,8.8,8.3,7.8,6.3,4.8,4.5,2.3,0.1, -0.3,1.4,3.8,2.4,2.8,4.3,6.2,9.1,9.5,6.2,
          2.3,-1.6,-2.2,-0.6,1.8,5.2,8.2,10.1,8.2,5.3, 2.8,1.9,1.0,2.1,3.0,3.7,7.1,9.3,9.9,7.0,
          7.2,7.5,6.2,4.3,3.3,1.8,0.9,-0.4,1.3,4.2, 8.2,9.3,12.0,10.3,7.2,5.6,5.8,5.7,3.3,1.3,
          0.5,4.2,8.8,12.2,13.2,10.3,7.2,4.3,4.1,6.3, 8.2,7.3,3.6,1.6,-0.1,1.1,2.8,5.8,6.6,5.8,
          5.8,8.3,9.3,7.3,4.8,5.3,8.2,10.8,12.0,7.2, 4.3,2.1,1.2,2.3,4.3,5.8,4.3,3.8,4.3,2.9,
          1.6,2.8,2.9,5.1,5.0,8.2,10.0,8.2,6.3,5.8, 5.6,4.8,2.3,0.0,1.9,2.4,3.2,4.3,3.8]
P6_L19 = [2.5,2.6,2.0,1.6,0.6,1.0,1.3,6.3,8.7,10.5, 12.2,9.8,6.3,4.3,2.4,1.4,1.7,1.0,3.8,7.1,
          11.6,14.1,10.9,7.9,6.3,4.4,5.0,6.0,3.7,3.0, 3.4,2.7,3.9,6.0,8.1,5.9,6.4,8.2,9.3,7.3,
          4.4,4.9,8.1,9.7,11.5,8.9,5.4,3.9,2.9,3.4, 7.2,7.7,7.9,5.4,5.3,3.5,1.3,0.8,2.9,4.9,
          5.4,8.2,8.9,8.2,7.7,6.4,4.9,4.6,2.4,0.3, -0.1,1.5,3.9,2.5,2.9,4.4,6.3,9.1,9.4,6.3,
          2.4,-1.5,-2.3,-0.5,1.9,5.3,8.1,10.0,8.1,5.4, 2.9,2.0,1.2,2.3,3.2,3.9,7.1,9.2,9.8,7.5,
          7.4,7.4,6.3,4.4,3.4,1.9,1.0,0.3,1.4,4.3, 8.3,9.2,11.9,10.2,7.3,5.8,5.9,5.8,3.4,1.4,
          0.6,4.3,8.7,12.1,13.1,10.2,7.3,4.4,4.3,6.4, 8.1,7.4,3.8,1.8,0.2,1.3,2.9,5.9,6.8,5.9,
          5.9,8.4,9.2,7.4,4.9,5.4,8.3,10.9,11.8,7.3, 4.4,2.3,1.4,2.4,4.4,5.9,4.4,3.9,4.4,3.0,
          1.8,2.9,3.0,5.2,5.1,8.3,9.9,8.3,6.4,5.9, 5.7,4.9,2.4,0.4,2.0,2.5,3.3,4.4,3.9]
BANDS6 = [(12, 36), (75, 97), (132, 154), (229, 252), (270, 292), (332, 352), (354, 374),
          (393, 415), (439, 461), (499, 515), (518, 541), (574, 597), (613, 632), (640, 663),
          (730, 753), (770, 793), (831, 852)]

# ---------------- LcPorT1 ----------------
X7 = [9,10,12,14,16,19,22,25,28,30, 32,35,37,39,41,44,46,48,50,51,
      53,55,58,60,62,65,67,69,71,74, 75,77,79,81,83,85,87,89,91,94,
      97,100,102,104,106,108,111,113,116,118, 120,122,125,127,129,131,133,136,139,141,
      144,146,148,150,153,156,159,161,163,165, 168,171,174,177,179,181,184,187,190,193,
      196,199,202,204,206,209,212,215,217,220, 222,224,227,230,233,236,239,242,244,247,
      249,251,253,256,258,260,262,265,267,269, 271,273,276,278,280,282,284,286,289,291,
      293,295,298,301,304,306,308,310,312,315, 318,321,324,327,329,331,334,336,338,340,
      343]
P7_L23 = [7.2,6.4,4.5,5.0,4.3,4.5,3.8,4.0,3.5,4.2, 5.5,6.5,7.3,6.8,8.0,10.0,11.0,13.0,14.5,15.5,
          14.8,12.5,11.0,9.0,7.5,5.5,4.2,3.0,1.0,-0.5, -0.8,-0.3,-0.5,0.0,0.5,2.5,4.5,5.0,4.7,7.0,
          8.5,9.5,11.0,10.8,11.0,10.0,10.5,9.8,10.5,11.0, 12.7,12.0,12.3,13.2,12.5,10.0,7.5,5.5,3.5,3.0,
          3.1,4.0,4.5,6.0,8.5,10.3,10.0,10.5,10.0,10.7, 9.5,7.0,4.5,2.5,1.8,1.2,2.5,3.0,4.5,6.5,
          8.0,9.0,9.8,10.5,9.5,8.0,7.3,6.5,5.0,4.0, 4.3,5.5,5.5,7.0,8.0,10.0,11.5,13.3,12.0,10.0,
          9.0,9.3,9.0,9.2,8.0,5.0,2.0,1.0,0.6,1.3, 2.0,3.0,3.5,5.0,4.3,3.5,3.0,2.5,1.5,0.5,
          1.0,1.2,1.5,3.5,7.0,9.5,10.5,11.0,10.5,8.0, 4.5,2.0,0.8,0.0,-0.8,0.0,0.5,2.5,4.0,5.0,
          6.2]
P7_L22 = [7.1,6.3,4.6,4.9,4.2,4.4,3.9,3.9,3.7,4.3, 5.4,6.4,7.1,6.9,7.9,9.8,10.9,12.8,14.2,15.1,
          14.6,12.4,11.0,9.0,7.5,5.6,4.3,3.0,1.2,-0.3, -0.6,-0.1,-0.2,0.2,0.6,2.6,4.5,5.0,4.8,7.0,
          8.4,9.4,10.8,10.6,10.8,9.8,10.2,9.6,10.2,10.8, 12.4,11.8,12.1,12.9,12.4,10.0,7.5,5.6,3.4,2.8,
          3.0,4.0,4.5,6.0,8.5,10.2,10.0,10.4,9.9,10.5, 9.4,7.0,4.6,2.6,1.9,1.4,2.6,3.1,4.6,6.5,
          8.0,9.0,9.7,10.3,9.5,8.0,7.3,6.5,5.1,4.1, 4.4,5.5,5.6,7.0,8.0,10.0,11.4,13.0,12.0,10.0,
          9.1,9.3,9.0,9.2,8.0,5.0,2.1,1.1,0.8,1.4, 2.1,3.1,3.6,4.9,4.3,3.5,3.1,2.6,1.6,0.7,
          1.1,1.3,1.6,3.5,7.0,9.5,10.5,11.0,10.6,8.0, 4.5,2.1,0.9,0.1,-0.6,0.1,0.6,2.5,4.0,5.1,
          6.1]
P7_L20 = [7.1,6.3,4.4,4.7,4.0,4.2,3.7,3.7,3.6,4.5, 5.6,6.3,7.0,7.0,7.8,9.7,10.8,12.6,14.0,14.8,
          14.4,12.3,11.0,9.1,7.6,5.7,4.4,3.1,1.4,-0.1, -0.3,0.2,0.1,0.4,0.7,2.7,4.6,5.1,4.9,7.1,
          8.3,9.3,10.7,10.4,10.6,9.6,10.0,9.4,9.9,10.6, 12.2,11.6,11.9,12.7,12.3,10.1,7.6,5.7,3.4,2.7,
          2.8,4.1,4.6,6.1,8.4,10.1,9.9,10.3,9.8,10.4, 9.3,7.1,4.7,2.7,2.0,1.5,2.7,3.2,4.7,6.6,
          8.1,9.0,9.6,10.1,9.5,8.1,7.4,6.6,5.2,4.2, 4.5,5.6,5.7,7.1,8.1,10.0,11.3,12.8,12.0,10.1,
          9.2,9.4,9.1,9.1,8.1,5.1,2.2,1.2,1.0,1.5, 2.2,3.2,3.7,4.8,4.4,3.6,3.2,2.7,1.7,0.9,
          1.2,1.4,1.7,3.6,7.1,9.6,10.6,11.1,10.7,8.1, 4.6,2.2,1.0,0.3,-0.4,0.2,0.7,2.6,4.1,5.2,
          6.0]
P7_L21 = [7.0,6.4,4.2,4.5,3.8,4.0,3.5,3.3,3.7,4.6, 5.8,6.2,6.8,7.1,7.6,9.6,10.6,12.4,13.8,14.3,
          14.2,12.2,11.1,9.2,7.7,5.8,4.5,3.2,1.6,0.2, 0.1,0.6,0.5,0.7,0.8,2.8,4.7,5.2,5.0,7.2,
          8.2,9.2,10.5,10.2,10.3,9.4,9.2,9.0,9.5,10.3, 12.0,11.4,11.8,12.4,12.2,10.2,7.7,5.8,3.3,2.2,
          2.6,4.2,4.7,6.2,8.3,10.0,9.6,10.1,9.6,10.2, 9.2,7.2,4.8,2.8,2.1,1.6,2.8,3.3,4.8,6.7,
          8.2,9.1,9.5,10.0,9.6,8.2,7.5,6.7,5.3,4.3, 4.6,5.7,5.8,7.2,8.2,10.1,11.2,12.6,12.1,10.2,
          9.3,9.5,9.2,9.0,8.2,5.2,2.3,1.3,1.2,1.6, 2.3,3.3,3.8,4.7,4.5,3.7,3.3,2.8,1.8,1.1,
          1.3,1.5,1.8,3.7,7.2,9.7,10.8,11.3,10.8,8.2, 4.7,2.3,1.1,0.5,-0.2,0.3,0.8,2.7,4.2,5.4,
          6.3]
P7_L19 = [6.9,6.5,4.0,4.2,3.6,3.5,3.7,3.6,3.8,4.7, 5.9,6.0,6.7,7.2,7.5,9.5,10.5,12.2,13.6,14.0,
          13.9,12.1,11.1,9.3,7.8,5.9,4.6,3.3,1.8,0.5, 0.4,0.9,0.8,1.0,0.9,2.9,4.8,5.3,5.1,7.3,
          8.1,9.1,10.3,10.0,10.1,9.1,8.9,8.8,9.2,10.1, 11.8,11.2,11.6,12.1,12.0,10.3,7.8,5.9,3.2,2.5,
          2.7,4.3,4.8,6.3,8.2,9.9,9.3,9.8,9.3,10.0, 9.1,7.3,4.9,2.9,2.2,1.9,2.9,3.4,4.9,6.8,
          8.3,9.2,9.4,9.9,9.6,8.3,7.6,6.8,5.4,4.4, 4.7,5.8,5.9,7.3,8.3,10.2,11.1,12.0,11.9,10.3,
          9.4,9.6,9.3,8.9,8.3,5.3,2.4,1.4,1.3,1.7, 2.4,3.4,3.9,4.6,4.6,3.8,3.4,2.9,1.9,0.4,
          1.4,1.6,1.9,3.8,7.3,9.8,10.7,11.0,10.9,8.3, 4.8,2.4,1.2,0.7,0.2,0.4,0.9,2.8,4.3,5.5,
          6.5]
BANDS7 = [(62.5, 85.5), (133, 153), (171, 194), (256, 279), (284, 306), (319, 341)]

LEGEND_LABELS = SERIES

# ---------------------------------------------------------------------------
FONT = "Liberation Serif, Times New Roman, serif"

panels = [
    dict(x=X1, ys=[P1_L19, P1_L20, P1_L21, P1_L22, P1_L23], bands=BANDS1,
         box=(66, 467, 60, 393), xr=[-1, 547.3], yr=[-2.67, 21.4],
         xt=[0, 100, 200, 300, 400, 500], yt=[0, 5, 10, 15, 20],
         tpos=(272, 32), xtpos=(267, 421), ytpos=(25, 225), right=True),
    dict(x=X2, ys=[P2_L19, P2_L20, P2_L21, P2_L22, P2_L23], bands=BANDS2,
         box=(553, 954, 60, 393), xr=[-2.4, 945.6], yr=[-3.8, 18.9],
         xt=[0, 100, 200, 300, 400, 500, 600, 700, 800, 900], yt=[0, 5, 10, 15],
         tpos=(749, 32), xtpos=(744, 421), ytpos=(518, 224), right=True),
    dict(x=X3, ys=[P3_L19, P3_L20, P3_L21, P3_L22, P3_L23], bands=BANDS3,
         box=(72, 473, 500, 832), xr=[-0.7, 290.7], yr=[-1.24, 22.0],
         xt=[0, 50, 100, 150, 200, 250], yt=[0, 5, 10, 15, 20],
         tpos=(282, 474), xtpos=(273, 860), ytpos=(32, 682), right=True),
    dict(x=X4, ys=[P4_L19, P4_L20, P4_L21, P4_L22, P4_L23], bands=BANDS4,
         box=(559, 957, 501, 832), xr=[-1.5, 871], yr=[-2.9, 17.6],
         xt=[0, 100, 200, 300, 400, 500, 600, 700, 800], yt=[0, 5, 10, 15],
         tpos=(748, 474), xtpos=(750, 860), ytpos=(523, 682), right=False),
    dict(x=X5, ys=[P5_L19, P5_L20, P5_L21, P5_L22, P5_L23], bands=BANDS5,
         box=(72, 473, 935, 1266), xr=[-0.8, 316.7], yr=[-3.22, 13.17],
         xt=[0, 50, 100, 150, 200, 250, 300], yt=[-2, 0, 2, 4, 6, 8, 10, 12],
         tpos=(258, 913), xtpos=(274, 1294), ytpos=(32, 1090), right=True),
    dict(x=X6, ys=[P6_L19, P6_L20, P6_L21, P6_L22, P6_L23], bands=BANDS6,
         box=(559, 957, 935, 1266), xr=[-3.7, 869], yr=[-3.75, 15.7],
         xt=[0, 100, 200, 300, 400, 500, 600, 700, 800], yt=[-2, 0, 2, 4, 6, 8, 10, 12, 14],
         tpos=(758, 913), xtpos=(750, 1294), ytpos=(523, 1090), right=False),
    dict(x=X7, ys=[P7_L19, P7_L20, P7_L21, P7_L22, P7_L23], bands=BANDS7,
         box=(72, 473, 1358, 1690), xr=[-1.4, 353.1], yr=[-1.84, 16.5],
         xt=[0, 50, 100, 150, 200, 250, 300, 350], yt=[0, 2, 4, 6, 8, 10, 12, 14, 16],
         tpos=(262, 1337), xtpos=(274, 1718), ytpos=(32, 1526), right=True),
]


def fx(px):
    return px / W


def fy(py):
    return 1 - py / H


fig = go.Figure()
shapes = []
annotations = []
layout = {}

for i, p in enumerate(panels):
    k = i + 1
    xa = "x" if k == 1 else f"x{k}"
    ya = "y" if k == 1 else f"y{k}"
    xkey = "xaxis" if k == 1 else f"xaxis{k}"
    ykey = "yaxis" if k == 1 else f"yaxis{k}"
    x0, x1, y0, y1 = p["box"]
    axis_common = dict(showline=True, linecolor="#6a6a6a", linewidth=1.5,
                       ticks="inside", ticklen=4, tickwidth=1, tickcolor="#6a6a6a",
                       showgrid=False, zeroline=False,
                       tickfont=dict(family=FONT, size=12, color="#333333"))
    layout[xkey] = dict(domain=[fx(x0), min(1.0, fx(x1))], range=p["xr"], anchor=ya,
                        tickvals=p["xt"], mirror="ticks", **axis_common)
    layout[ykey] = dict(domain=[fy(y1), fy(y0)], range=p["yr"], anchor=xa,
                        tickvals=p["yt"], mirror="ticks" if p["right"] else False,
                        **axis_common)

    for (b0, b1) in p["bands"]:
        shapes.append(dict(type="rect", xref=xa, yref=f"{ya} domain", x0=b0, x1=b1,
                           y0=0, y1=1, fillcolor="#DCDCDC", line=dict(width=0),
                           layer="below"))
    shapes.append(dict(type="line", xref=f"{xa} domain", yref=ya, x0=0, x1=1, y0=0, y1=0,
                       line=dict(color="#6DBCA3", width=1.2), layer="below"))

    for s, yv, col in zip(SERIES, p["ys"], COLORS):
        n = min(len(p["x"]), len(yv))
        fig.add_trace(go.Scatter(x=p["x"][:n], y=yv[:n], mode="lines", name=s,
                                 line=dict(color=col, width=1.4),
                                 xaxis=xa, yaxis=ya, showlegend=False, hoverinfo="skip"))

    tx, ty = p["tpos"]
    annotations.append(dict(text=f"<b>{TITLES[i]}</b>", x=fx(tx), y=fy(ty), xref="paper",
                            yref="paper", showarrow=False, xanchor="center", yanchor="middle",
                            font=dict(family=FONT, size=36, color="#1a1a1a")))
    ax_, ay_ = p["xtpos"]
    annotations.append(dict(text=f"<b>{X_TITLE}</b>", x=fx(ax_), y=fy(ay_), xref="paper",
                            yref="paper", showarrow=False, xanchor="center", yanchor="middle",
                            font=dict(family=FONT, size=22, color="#222222")))
    bx, by = p["ytpos"]
    annotations.append(dict(text=f"<b>{Y_TITLE}</b>", x=fx(bx), y=fy(by), xref="paper",
                            yref="paper", showarrow=False, xanchor="center", yanchor="middle",
                            textangle=-90, font=dict(family=FONT, size=22, color="#222222")))

# custom legend
LEG_Y = [1414, 1466, 1518, 1570, 1622]
for lab, col, ly in zip(LEGEND_LABELS, COLORS, LEG_Y):
    annotations.append(dict(text=lab, x=fx(580), y=fy(ly - 1), xref="paper", yref="paper",
                            showarrow=False, xanchor="left", yanchor="middle",
                            font=dict(family=FONT, size=49, color="#111111")))
    shapes.append(dict(type="line", xref="paper", yref="paper", x0=fx(716), x1=fx(854),
                       y0=fy(ly), y1=fy(ly), line=dict(color=col, width=3)))

fig.update_layout(width=W, height=H, autosize=False,
                  margin=dict(l=0, r=0, t=0, b=0, pad=0),
                  paper_bgcolor="white", plot_bgcolor="white",
                  shapes=shapes, annotations=annotations, showlegend=False, **layout)

fig.write_html("out.html", include_plotlyjs=True, config={"displayModeBar": False},
               post_script="document.body.style.margin='0';document.body.style.padding='0';")
